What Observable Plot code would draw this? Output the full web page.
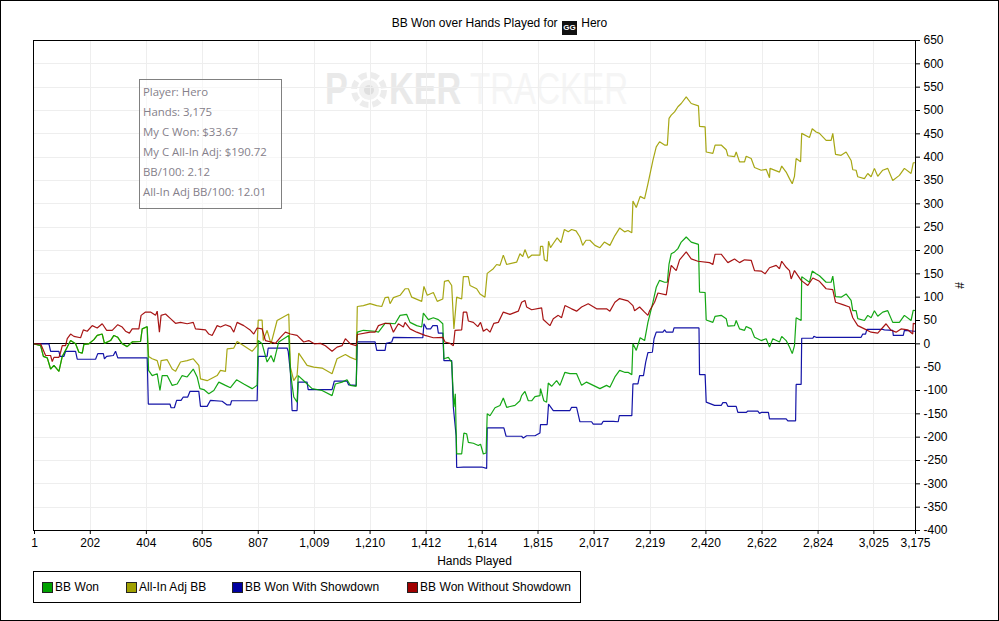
<!DOCTYPE html>
<html><head><meta charset="utf-8">
<script src="https://cdn.jsdelivr.net/npm/d3@7"></script>
<script src="https://cdn.jsdelivr.net/npm/@observablehq/plot@0.6"></script>
<style>
html,body{margin:0;padding:0;background:#fff;overflow:hidden}
#page{position:relative;width:999px;height:621px;box-sizing:border-box;border:1px solid #000;background:#fff;font-family:"Liberation Sans",sans-serif;overflow:hidden}
#chart{position:absolute;left:-1px;top:-1px}
#chart svg{background:transparent;display:block;max-width:none}
#title{position:absolute;left:-1px;width:999px;top:14px;text-align:center;font-size:12px;line-height:16px;color:#000}
#title .ico{display:inline-block;width:15px;height:14px;background:#111;color:#fff;font:bold 8px/14px "Liberation Sans";text-align:center;vertical-align:-3px;margin:0 1px}
#wm span{position:absolute;top:62px;font-size:45px;line-height:52px;transform-origin:0 50%;transform:scaleX(.76);white-space:nowrap}
#wm .b{font-weight:bold;color:#e9e9e9}
#wm .l{color:#f5f5f5;transform:scaleX(.735)}
#wm svg{position:absolute;left:348px;top:69px}
#info{position:absolute;left:138px;top:78px;width:141px;height:128px;border:1px solid #808080;background:rgba(255,255,255,.55);color:#85808a;font-family:"Open Sans",sans-serif;font-size:11.4px}
#info div{position:absolute;left:3px;white-space:nowrap;line-height:16px}
#legend{position:absolute;left:32px;top:570px;width:546px;height:30px;border:1px solid #000;background:#fff;font-size:12px}
#legend i{position:absolute;top:10px;width:9px;height:9px;border:1px solid #222}
#legend span{position:absolute;top:8px;line-height:14px;white-space:nowrap;letter-spacing:.05px}
</style></head><body>
<div id="page">
  <div id="wm"></div>
  <div id="chart"></div>
  <div id="title"></div>
  <div id="info"></div>
  <div id="legend"></div>
</div>
<script>
const xTicks = [1,202,404,605,807,1009,1210,1412,1614,1815,2017,2219,2420,2622,2824,3025,3175];
const yTicks = [-400,-350,-300,-250,-200,-150,-100,-50,0,50,100,150,200,250,300,350,400,450,500,550,600,650];
const titleText = ["BB Won over Hands Played for","GG","Hero"];
const infoLines = ["Player: Hero","Hands: 3,175","My C Won: $33.67","My C All-In Adj: $190.72","BB/100: 2.12","All-In Adj BB/100: 12.01"];
const seriesNames = ["BB Won","All-In Adj BB","BB Won With Showdown","BB Won Without Showdown"];
const seriesColors = ["#00a000","#a0a000","#0000a0","#a00000"];

const bbWon = [[1,0],[23,-4],[33,-27],[47,-30],[59,-54],[71,-46],[89,-59],[101,-27],[119,-7],[131,7],[149,0],[161,-18],[173,-20],[179,-1],[197,0],[215,9],[227,18],[245,21],[253,1],[275,7],[287,18],[301,14],[317,0],[335,-6],[353,4],[383,5],[389,32],[407,37],[412,-57],[425,-68],[443,-64],[453,-100],[461,-68],[479,-68],[497,-89],[515,-86],[533,-68],[551,-71],[573,-54],[587,-71],[597,-96],[611,-98],[629,-107],[647,-100],[665,-82],[689,-89],[707,-94],[729,-77],[755,-86],[785,-96],[803,-89],[807,7],[821,0],[839,-39],[853,-25],[863,-39],[881,4],[917,18],[923,-61],[935,-114],[947,-125],[951,-68],[971,-79],[1001,-96],[1037,-100],[1073,-111],[1085,-86],[1109,-82],[1127,-77],[1139,-89],[1160,-91],[1164,25],[1186,29],[1228,27],[1240,25],[1264,44],[1282,44],[1300,43],[1318,61],[1342,63],[1354,46],[1378,39],[1396,36],[1402,66],[1420,52],[1438,56],[1456,52],[1472,43],[1476,-32],[1492,-29],[1504,-39],[1512,-136],[1517,-107],[1522,-236],[1540,-236],[1548,-191],[1558,-193],[1564,-211],[1582,-213],[1600,-218],[1608,-215],[1618,-236],[1628,-234],[1632,-150],[1642,-154],[1660,-137],[1678,-132],[1690,-116],[1702,-136],[1732,-132],[1750,-122],[1756,-111],[1768,-102],[1780,-122],[1792,-122],[1804,-113],[1822,-111],[1824,-96],[1836,-122],[1846,-125],[1852,-84],[1864,-91],[1882,-79],[1894,-89],[1912,-61],[1930,-64],[1954,-64],[1972,-89],[1990,-82],[2014,-89],[2038,-96],[2062,-89],[2074,-93],[2092,-71],[2109,-57],[2127,-61],[2139,-61],[2153,-66],[2157,0],[2169,-14],[2183,13],[2199,7],[2211,46],[2229,89],[2241,121],[2253,136],[2271,132],[2281,132],[2287,171],[2295,193],[2307,197],[2319,204],[2331,218],[2349,229],[2367,218],[2393,213],[2397,111],[2417,110],[2421,51],[2445,46],[2453,59],[2475,61],[2493,54],[2499,38],[2523,39],[2529,50],[2541,32],[2559,29],[2565,37],[2583,32],[2595,14],[2619,7],[2637,11],[2649,-7],[2661,11],[2685,4],[2693,16],[2709,7],[2721,-7],[2731,-21],[2739,-4],[2745,56],[2763,50],[2765,144],[2793,132],[2803,156],[2817,150],[2829,146],[2853,132],[2871,132],[2877,145],[2887,101],[2907,100],[2925,107],[2943,93],[2949,71],[2961,71],[2967,54],[2991,50],[3003,61],[3015,56],[3027,71],[3039,59],[3057,68],[3075,71],[3093,46],[3117,46],[3135,61],[3159,50],[3167,72],[3175,71]];

const allInAdj = [[1,0],[23,-4],[33,-27],[47,-30],[59,-54],[71,-46],[89,-59],[101,-27],[119,-7],[131,7],[149,0],[161,-18],[173,-20],[179,-1],[197,0],[215,9],[227,18],[245,21],[253,1],[275,7],[287,18],[301,14],[317,0],[335,-6],[353,4],[383,5],[389,32],[407,36],[412,-27],[425,-32],[443,-36],[453,-57],[457,-36],[479,-34],[497,-54],[509,-59],[527,-39],[551,-36],[573,-32],[593,-46],[599,-75],[623,-79],[659,-68],[671,-57],[689,-59],[695,-11],[719,-9],[731,5],[755,-4],[785,-16],[803,-4],[807,51],[821,51],[825,7],[839,29],[853,0],[875,50],[917,64],[923,-50],[935,-79],[947,-68],[953,-20],[983,-46],[1007,-50],[1037,-52],[1073,-64],[1091,-32],[1121,-23],[1139,-29],[1160,-34],[1164,80],[1186,82],[1210,86],[1234,82],[1252,80],[1264,99],[1276,100],[1282,86],[1294,99],[1318,104],[1336,118],[1348,118],[1360,100],[1396,91],[1404,123],[1416,104],[1438,110],[1452,91],[1472,96],[1478,134],[1492,136],[1504,125],[1512,32],[1522,100],[1540,96],[1546,144],[1564,144],[1570,125],[1594,118],[1606,107],[1624,100],[1632,151],[1654,161],[1666,170],[1678,168],[1690,190],[1702,170],[1738,175],[1750,193],[1760,187],[1768,202],[1780,184],[1792,190],[1822,190],[1824,209],[1832,209],[1838,180],[1848,177],[1853,220],[1860,206],[1870,215],[1884,227],[1898,217],[1910,245],[1924,240],[1936,245],[1952,242],[1966,229],[1976,211],[1988,222],[2002,222],[2020,211],[2038,206],[2054,218],[2074,211],[2092,232],[2109,248],[2127,240],[2139,243],[2153,238],[2157,306],[2169,292],[2183,316],[2199,311],[2211,343],[2229,393],[2241,422],[2253,433],[2271,426],[2281,426],[2287,483],[2295,490],[2307,497],[2319,508],[2331,515],[2349,529],[2367,515],[2393,510],[2397,466],[2417,465],[2421,411],[2445,408],[2453,426],[2475,426],[2493,416],[2499,403],[2523,401],[2529,411],[2541,390],[2559,390],[2565,402],[2583,397],[2595,378],[2619,372],[2637,374],[2649,356],[2651,376],[2685,368],[2693,381],[2709,368],[2721,354],[2731,343],[2739,359],[2745,397],[2761,390],[2765,451],[2793,442],[2803,461],[2817,454],[2829,451],[2853,436],[2871,436],[2877,451],[2887,406],[2907,404],[2925,411],[2943,393],[2949,373],[2961,372],[2967,358],[2991,354],[3003,365],[3015,358],[3027,376],[3039,359],[3057,372],[3075,376],[3093,350],[3117,361],[3135,376],[3159,365],[3167,388],[3175,388]];

const withShowdown = [[1,0],[53,0],[59,-16],[89,-16],[93,-27],[107,-27],[113,-16],[149,-16],[155,-33],[221,-33],[229,-21],[249,-21],[253,-32],[261,-27],[285,-25],[293,-16],[301,-30],[407,-30],[411,-129],[489,-129],[493,-137],[505,-137],[513,-121],[529,-121],[537,-114],[553,-114],[561,-102],[593,-102],[599,-134],[623,-134],[635,-121],[677,-123],[695,-131],[707,-131],[711,-122],[803,-122],[807,-27],[839,-27],[843,-9],[911,-9],[915,-16],[923,-61],[929,-143],[947,-143],[951,-82],[983,-82],[987,-98],[1073,-98],[1081,-80],[1127,-80],[1133,-88],[1160,-89],[1164,4],[1228,4],[1234,-14],[1264,-14],[1268,1],[1288,4],[1294,14],[1400,13],[1404,43],[1414,32],[1428,32],[1436,39],[1452,39],[1456,23],[1472,23],[1476,-36],[1504,-36],[1510,-136],[1520,-197],[1522,-265],[1546,-264],[1612,-264],[1630,-267],[1632,-180],[1692,-180],[1700,-198],[1756,-198],[1762,-202],[1774,-197],[1804,-197],[1822,-191],[1824,-173],[1848,-173],[1853,-129],[1870,-143],[1930,-143],[1936,-136],[1954,-136],[1966,-167],[2008,-167],[2014,-172],[2044,-172],[2050,-166],[2086,-166],[2104,-167],[2108,-154],[2153,-154],[2157,-86],[2175,-86],[2181,-68],[2195,-68],[2203,-39],[2211,-19],[2227,-18],[2233,11],[2241,25],[2265,25],[2271,30],[2277,25],[2301,25],[2305,34],[2395,34],[2397,-66],[2417,-66],[2421,-125],[2451,-132],[2475,-132],[2481,-126],[2493,-126],[2499,-134],[2529,-134],[2535,-147],[2565,-147],[2571,-144],[2607,-144],[2613,-149],[2619,-147],[2645,-147],[2649,-161],[2709,-161],[2715,-165],[2743,-165],[2745,-87],[2763,-87],[2765,12],[2805,12],[2809,16],[2817,14],[2979,14],[2985,21],[2995,21],[3000,31],[3057,31],[3063,30],[3093,29],[3095,18],[3131,18],[3135,29],[3171,27],[3175,27]];

const withoutShowdown = [[1,0],[23,0],[41,-25],[59,-25],[65,-38],[71,-29],[89,-29],[95,-18],[101,-4],[113,-4],[119,11],[131,21],[143,16],[167,13],[177,30],[191,27],[209,39],[227,34],[245,43],[261,29],[281,29],[301,41],[317,36],[329,27],[343,23],[353,32],[377,32],[385,61],[401,68],[419,68],[437,61],[443,70],[451,25],[457,61],[473,64],[491,54],[509,44],[527,46],[551,43],[573,46],[581,32],[617,30],[629,21],[641,18],[659,39],[671,36],[689,41],[707,37],[719,25],[731,46],[755,39],[779,29],[791,21],[803,34],[821,32],[833,7],[853,4],[869,1],[887,14],[905,25],[923,21],[947,18],[971,4],[989,7],[1009,0],[1031,1],[1049,-4],[1073,-16],[1091,-7],[1109,-4],[1121,11],[1139,0],[1160,-4],[1164,20],[1210,25],[1228,25],[1240,39],[1264,44],[1282,43],[1294,25],[1312,43],[1330,36],[1336,46],[1354,32],[1378,25],[1408,18],[1438,13],[1472,14],[1480,4],[1498,1],[1510,-4],[1516,29],[1540,30],[1546,68],[1558,68],[1564,49],[1582,46],[1598,37],[1608,46],[1618,27],[1630,32],[1642,25],[1656,44],[1672,46],[1690,68],[1714,63],[1744,70],[1756,89],[1768,93],[1774,79],[1792,73],[1828,77],[1834,52],[1858,39],[1870,54],[1888,61],[1900,56],[1912,82],[1936,75],[1954,70],[1972,79],[1996,86],[2026,75],[2062,75],[2074,70],[2092,89],[2109,97],[2139,92],[2157,82],[2163,71],[2181,79],[2199,68],[2211,61],[2217,71],[2235,89],[2247,109],[2277,105],[2287,143],[2295,168],[2313,157],[2325,180],[2349,197],[2367,182],[2391,177],[2433,174],[2445,170],[2453,192],[2475,192],[2499,174],[2523,182],[2541,174],[2559,180],[2583,179],[2595,157],[2619,156],[2633,150],[2649,163],[2673,168],[2685,161],[2693,177],[2709,164],[2721,157],[2727,139],[2739,157],[2763,136],[2787,125],[2805,141],[2829,134],[2853,118],[2877,116],[2887,89],[2913,84],[2937,79],[2949,56],[2967,39],[2991,32],[3015,25],[3039,23],[3069,43],[3087,29],[3105,25],[3123,32],[3147,30],[3165,21],[3167,44],[3175,43]];

const series = [bbWon, allInAdj, withShowdown, withoutShowdown];
const drawOrder = [1,2,0,3];
const fmt = d3.format(",");

const plot = Plot.plot({
  width: 999, height: 621,
  marginLeft: 33, marginRight: 84, marginTop: 40, marginBottom: 91,
  style: {background: "transparent", fontFamily: "Liberation Sans", fontSize: "12px", color: "#000"},
  x: {domain: [1, 3175], range: [34, 915]},
  y: {domain: [-400, 650]},
  marks: [
    Plot.ruleX(xTicks.slice(1, -1), {stroke: "#eeeeee", strokeWidth: 1, shapeRendering: "crispEdges"}),
    Plot.ruleY(yTicks.slice(1, -1), {stroke: "#eeeeee", strokeWidth: 1, shapeRendering: "crispEdges"}),
    Plot.ruleY([0], {stroke: "#000", strokeWidth: 1, shapeRendering: "crispEdges", dy: -0.5}),
    ...drawOrder.map(i => Plot.line(series[i], {
      x: d => d[0], y: d => d[1], stroke: seriesColors[i], strokeWidth: 1.2, strokeLinejoin: "miter", strokeOpacity: 0.92
    })),
    Plot.frame({stroke: "#000", strokeWidth: 1}),
    Plot.axisX({ticks: xTicks, tickFormat: fmt, tickSize: 4, tickPadding: 4, label: "Hands Played", labelAnchor: "center", labelOffset: 34, labelArrow: "none", fill: "#000", stroke: "#000"}),
    Plot.axisY({anchor: "right", ticks: yTicks, tickFormat: d => d, tickSize: 4, tickPadding: 4, label: "#", labelAnchor: "center", labelOffset: 48, labelArrow: "none", fill: "#000", stroke: "#000"})
  ]
});
plot.querySelectorAll('[aria-label="x-axis tick label"] text,[aria-label="y-axis tick label"] text').forEach(t => t.removeAttribute("stroke"));
document.getElementById("chart").appendChild(plot);

document.getElementById("title").innerHTML =
  titleText[0] + ' <span class="ico">' + titleText[1] + '</span> ' + titleText[2];

document.getElementById("info").innerHTML = infoLines.map((s, i) =>
  '<div style="top:' + (4 + i * 20) + 'px">' + s + '</div>').join("");

const legendSwatch = [8, 92, 198, 373];
const legendLabel = [21, 105, 211, 386];
document.getElementById("legend").innerHTML = seriesNames.map((s, i) =>
  '<i style="left:' + legendSwatch[i] + 'px;background:' + seriesColors[i] + '"></i>' +
  '<span style="left:' + legendLabel[i] + 'px">' + s + '</span>').join("");

document.getElementById("wm").innerHTML =
  '<span class="b" style="left:324px">P</span>' +
  '<svg width="40" height="40" viewBox="0 0 40 40"><circle cx="20" cy="20" r="15" fill="none" stroke="#ececec" stroke-width="6" stroke-dasharray="8 4"/><circle cx="20" cy="20" r="10" fill="#f1f1f1"/><circle cx="20" cy="20" r="5" fill="#dfdfdf"/></svg>' +
  '<span class="b" style="left:388px">KER</span><span class="l" style="left:469px">TRACKER</span>';
</script>
</body></html>
